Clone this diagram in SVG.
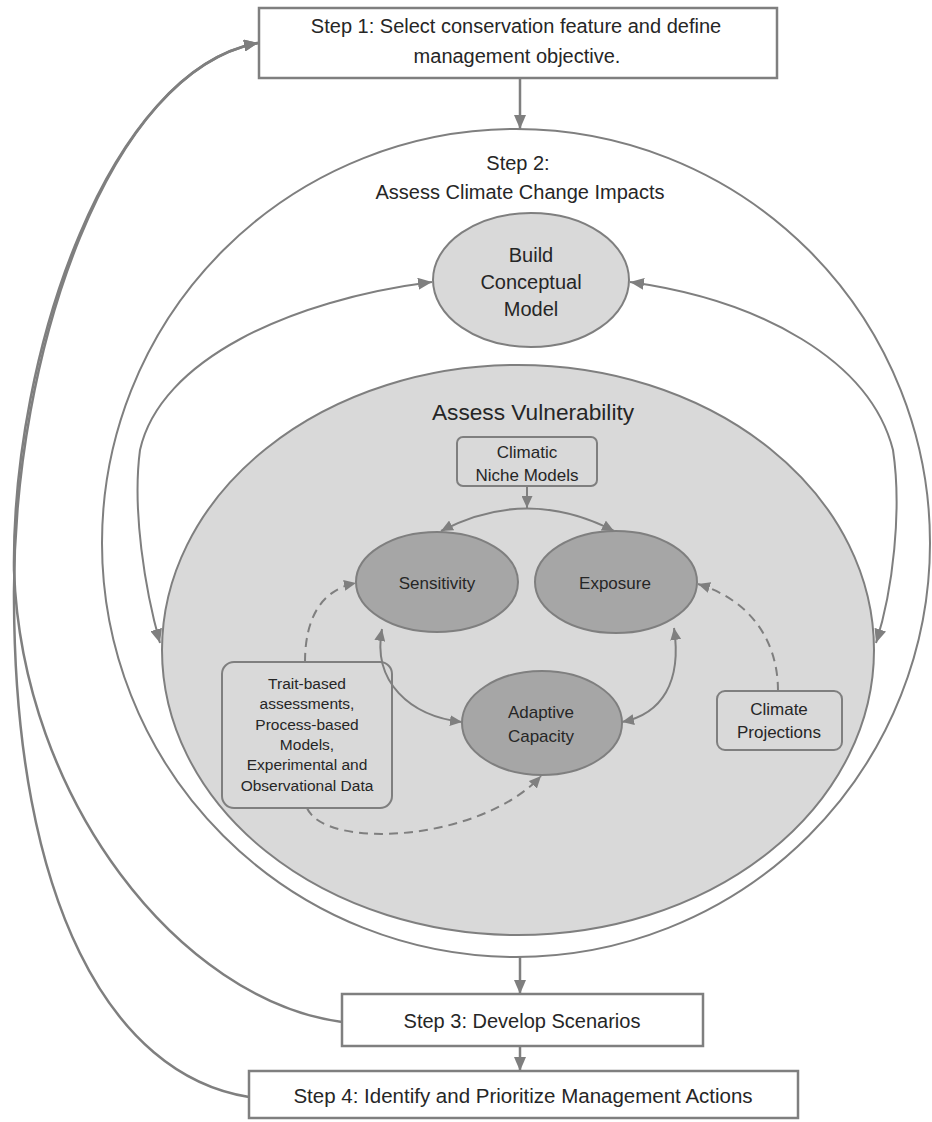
<svg xmlns="http://www.w3.org/2000/svg" width="932" height="1122" viewBox="0 0 932 1122">
<defs>
<marker id="ah" markerUnits="userSpaceOnUse" markerWidth="15" markerHeight="12" refX="14" refY="6" orient="auto-start-reverse"><path d="M0,0 L14,6 L0,12 z" fill="#7f7f7f"/></marker>
<marker id="ahs" markerUnits="userSpaceOnUse" markerWidth="13" markerHeight="11" refX="12" refY="5.5" orient="auto-start-reverse"><path d="M0,0 L12,5.5 L0,11 z" fill="#7f7f7f"/></marker>
</defs>
<style>
text{font-family:"Liberation Sans",Arial,sans-serif;fill:#262626;text-anchor:middle}
.box{fill:#fff;stroke:#7f7f7f;stroke-width:2.5}
.rbox{fill:#d9d9d9;stroke:#7f7f7f;stroke-width:2}
.light{fill:#d9d9d9;stroke:#7f7f7f;stroke-width:2}
.dark{fill:#a6a6a6;stroke:#7f7f7f;stroke-width:2}
.conn{fill:none;stroke:#7f7f7f;stroke-width:2}
.thick{stroke-width:2.5}
.dash{stroke-dasharray:9 6}
.t20{font-size:20px}
.t17{font-size:17px}
.t15{font-size:15.5px}
</style>
<rect width="932" height="1122" fill="#fff"/>

<g id="step1">
<rect class="box" x="259" y="8" width="518" height="70"/>
<text class="t20" x="516" y="33">Step 1: Select conservation feature and define</text>
<text class="t20" x="517" y="63">management objective.</text>
</g>

<g id="step2">
<circle cx="516" cy="543" r="414" fill="#fff" stroke="#7f7f7f" stroke-width="2"/>
<text class="t20" x="518" y="170">Step 2:</text>
<text class="t20" x="520" y="199">Assess Climate Change Impacts</text>
</g>

<g id="conceptual-model">
<ellipse class="light" cx="531" cy="280" rx="98" ry="67"/>
<text class="t20" x="531" y="262">Build</text>
<text class="t20" x="531" y="289">Conceptual</text>
<text class="t20" x="531" y="316">Model</text>
</g>

<g id="vulnerability">
<ellipse class="light" cx="518" cy="650" rx="356" ry="285"/>
<text x="533" y="420" font-size="22.7">Assess Vulnerability</text>
</g>

<g id="niche-models">
<rect class="rbox" x="457" y="437" width="140" height="49" rx="6"/>
<text class="t17" x="527" y="458">Climatic</text>
<text class="t17" x="527" y="481">Niche Models</text>
</g>

<g id="sensitivity">
<ellipse class="dark" cx="437" cy="582" rx="81" ry="50"/>
<text class="t17" x="437" y="589">Sensitivity</text>
</g>

<g id="exposure">
<ellipse class="dark" cx="616" cy="582" rx="81" ry="51"/>
<text class="t17" x="615" y="589">Exposure</text>
</g>

<g id="adaptive-capacity">
<ellipse class="dark" cx="542" cy="723" rx="80" ry="52"/>
<text class="t17" x="541" y="718">Adaptive</text>
<text class="t17" x="541" y="742">Capacity</text>
</g>

<g id="trait-based">
<rect class="rbox" x="222" y="662" width="170" height="146" rx="12"/>
<text class="t15" x="307" y="689">Trait-based</text>
<text class="t15" x="307" y="709">assessments,</text>
<text class="t15" x="307" y="730">Process-based</text>
<text class="t15" x="307" y="750">Models,</text>
<text class="t15" x="307" y="770">Experimental and</text>
<text class="t15" x="307" y="791">Observational Data</text>
</g>

<g id="climate-projections">
<rect class="rbox" x="717" y="691" width="125" height="59" rx="8"/>
<text class="t17" x="779" y="715">Climate</text>
<text class="t17" x="779" y="738">Projections</text>
</g>

<g id="step3">
<rect class="box" x="342" y="994" width="361" height="52"/>
<text class="t20" x="522" y="1028">Step 3: Develop Scenarios</text>
</g>

<g id="step4">
<rect class="box" x="249" y="1071" width="549" height="47"/>
<text x="523" y="1103" font-size="20.5">Step 4: Identify and Prioritize Management Actions</text>
</g>

<g id="connectors">
<line class="conn thick" x1="520" y1="78" x2="520" y2="129" marker-end="url(#ah)"/>
<line class="conn thick" x1="520" y1="957" x2="520" y2="994" marker-end="url(#ah)"/>
<line class="conn thick" x1="520" y1="1046" x2="520" y2="1071" marker-end="url(#ah)"/>
<path class="conn thick" d="M342,1022 C180,1000 22,800 14,570 C12,350 110,70 258,43" marker-end="url(#ah)"/>
<path class="conn thick" d="M249,1097 C110,1075 15,900 14,600 C12,350 110,70 258,43" marker-end="url(#ah)"/>
<path class="conn" d="M432,282 C290,300 160,360 140,450 C132,510 145,590 160,643" marker-start="url(#ah)" marker-end="url(#ah)"/>
<path class="conn" d="M630,282 C760,300 870,360 893,450 C902,510 893,590 876,643" marker-start="url(#ah)" marker-end="url(#ah)"/>
<line class="conn" x1="527" y1="486" x2="527" y2="508" marker-end="url(#ahs)"/>
<path class="conn" d="M441,531 Q527,486 614,531" marker-start="url(#ahs)" marker-end="url(#ahs)"/>
<path class="conn" d="M382,629 C372,682 410,716 462,722" marker-start="url(#ahs)" marker-end="url(#ahs)"/>
<path class="conn" d="M674,628 C682,682 662,714 622,722" marker-start="url(#ahs)" marker-end="url(#ahs)"/>
<path class="conn dash" d="M305,662 C305,620 320,590 356,583" marker-end="url(#ahs)"/>
<path class="conn dash" d="M307,808 C325,850 480,842 541,776" marker-end="url(#ahs)"/>
<path class="conn dash" d="M778,691 C778,640 750,600 698,584" marker-end="url(#ahs)"/>
</g>
</svg>
